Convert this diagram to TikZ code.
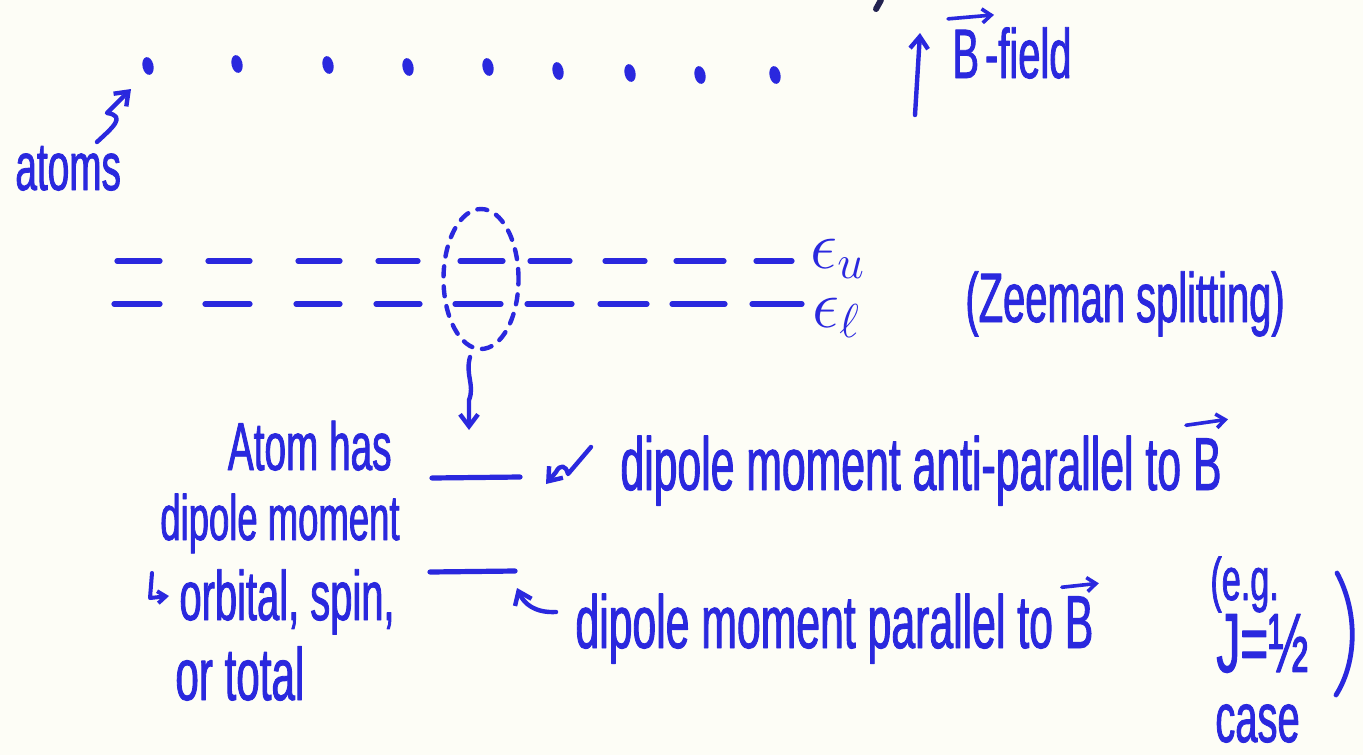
\RequirePackage{fix-cm}
\documentclass[tikz,border=0pt]{standalone}
\usepackage{fontspec}
\newfontfamily\hand[FakeStretch=0.57,FakeBold=1.2]{Liberation Sans}
\usetikzlibrary{arrows.meta,shapes.geometric}
\definecolor{ink}{RGB}{42,40,222}
\definecolor{darkink}{RGB}{35,35,80}
\definecolor{paper}{RGB}{253,253,246}
\newcommand{\hwsize}[1]{\fontsize{#1}{#1}\selectfont}
\begin{document}
\begin{tikzpicture}[x=0.5pt,y=-0.5pt, line cap=round, line join=round,
  txt/.style={text=ink, inner sep=0pt, anchor=base west},
  lvl/.style={draw=ink, line width=2.6pt},
  ptr/.style={draw=ink, line width=2.2pt, -{Straight Barb[length=6pt,width=9pt]}},
  vecarr/.style={draw=ink, line width=1.8pt, -{Straight Barb[length=4.5pt,width=7pt]}},
  atom/.style={ellipse, fill=ink, minimum width=5.5pt, minimum height=9pt, inner sep=0pt, rotate=12}]
\fill[paper] (0,0) rectangle (1363,755);
\useasboundingbox (0,0) rectangle (1363,755);
% stray mark
\draw[darkink, line width=3pt] (881,0) -- (876,9);
% atoms
\foreach \i/\x/\y in {1/148/66,2/237/64,3/328/65,4/408/67,5/488/67,6/558/71,7/630/73,8/700/75,9/775/75}
  \node[atom] (d\i) at (\x,\y) {};
\node[txt, font={\hand\hwsize{34}}] (atoms) at (15,190) {atoms};
\coordinate (atail) at (97,142);
\coordinate (atip) at (131,89);
\draw[ptr] (atail) .. controls (112,128) and (127,116) .. (107,113) -- (atip);
% B field
\coordinate (btail) at (915,115);
\coordinate (btip) at (920,33);
\draw[ptr] (btail) -- (btip);
\node[txt, font={\hand\hwsize{35}}] (bfield) at (952,78) {B\hspace{3pt}-field};
\draw[vecarr] ([shift={(-4,-8)}]bfield.north west) -- ([shift={(42,-12)}]bfield.north west);
% energy levels
\foreach \a/\b in {117/160,208/250,298/340,378/418,460/503,530/570,605/645,676/724,756/792}
  \draw[lvl] (\a,261) -- (\b,261);
\foreach \a/\b in {114/160,205/250,296/340,376/420,455/501,527/572,600/647,672/725,752/802}
  \draw[lvl] (\a,304) -- (\b,304);
\node[txt, font=\hwsize{34}] (eu) at (810,268) {\(\epsilon_u\)};
\node[txt, font=\hwsize{34}] (el) at (812,327) {\(\epsilon_\ell\)};
\node[txt, font={\hand\hwsize{35}}] (zee) at (965,322) {(Zeeman splitting)};
% zoom ellipse
\node[ellipse, draw=ink, line width=2.2pt, dash pattern=on 5pt off 5pt, minimum width=37.5pt, minimum height=70pt, inner sep=0pt] (grp) at (481,279) {};
\coordinate (dtail) at (470,357);
\coordinate (dtip) at (469,430);
\draw[ptr] (dtail) .. controls (465,375) and (475,385) .. (469,400) -- (dtip);
% two levels
\draw[lvl] (432,478) -- (520,477);
\draw[lvl] (430,572) -- (515,571);
% labels right
\node[txt, font={\hand\hwsize{37.5}}] (anti) at (620,490) {dipole moment anti-parallel to B};
\draw[vecarr] ([shift={(-36,-10)}]anti.north east) -- ([shift={(6,-16)}]anti.north east);
\coordinate (aptail) at (591,447);
\coordinate (aptip) at (546,484);
\draw[ptr] (aptail) -- (568,474) .. controls (566,465) and (560,464) .. (556,472) -- (aptip);
\node[txt, font={\hand\hwsize{37.5}}] (para) at (575,648) {dipole moment parallel to B};
\draw[vecarr] ([shift={(-32,-6)}]para.north east) -- ([shift={(5,-10)}]para.north east);
\coordinate (ptail) at (556,612);
\coordinate (ptip) at (517,588);
\draw[ptr] (ptail) .. controls (535,613) and (524,604) .. (ptip);
% left block
\node[txt, anchor=base east, font={\hand\hwsize{34}}] (l1) at (392,470) {Atom has};
\node[txt, anchor=base east, font={\hand\hwsize{32}}] (l2) at (400,540) {dipole moment};
\node[txt, anchor=base east, font={\hand\hwsize{35}}] (l3) at (395,620) {orbital, spin,};
\node[txt, font={\hand\hwsize{37}}] (l4) at (175,700) {or total};
\coordinate (htail) at (152,573);
\coordinate (htip) at (169,596);
\draw[draw=ink, line width=2pt, -{Straight Barb[length=4pt,width=6pt]}] (htail) -- (150,598) -- (htip);
% e.g. block
\node[txt, font={\hand\hwsize{30}}] (eg) at (1210,600) {(e.g.};
\node[txt, font={\hand\hwsize{42}}] (jhalf) at (1216,672) {J=½};
\node[txt, font={\hand\hwsize{35}}] (case) at (1215,742) {case};
\draw[draw=ink, line width=2.4pt] (1337,573) .. controls (1357,610) and (1358,660) .. (1336,695);
\end{tikzpicture}
\end{document}
